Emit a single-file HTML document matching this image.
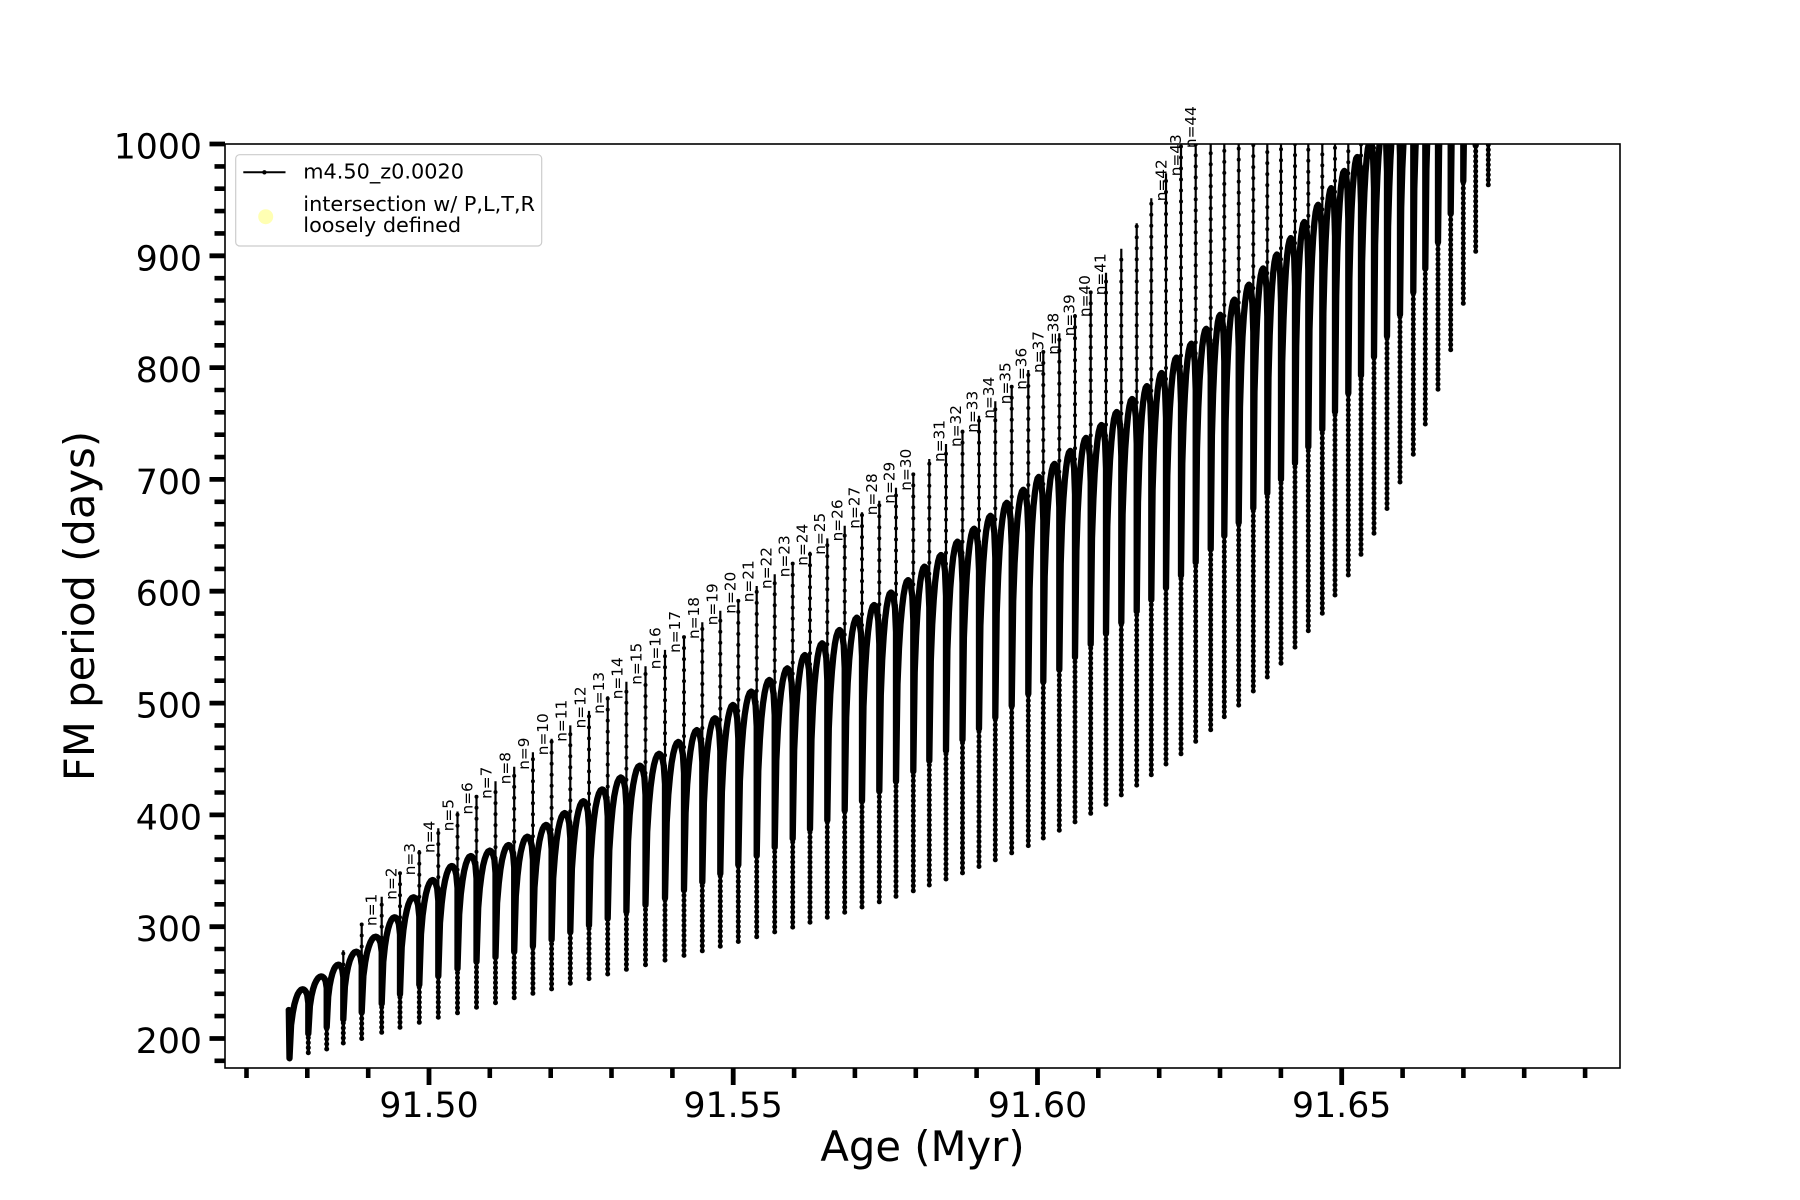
<!DOCTYPE html>
<html><head><meta charset="utf-8">
<style>
html,body{margin:0;padding:0;background:#fff;}
svg{display:block;}
text{font-family:"DejaVu Sans","Liberation Sans",sans-serif;fill:#000;}
</style></head>
<body>
<svg id="s" width="1800" height="1200" viewBox="0 0 1800 1200" xmlns="http://www.w3.org/2000/svg">
<rect width="1800" height="1200" fill="#fff"/>
<defs><clipPath id="ax"><rect x="225" y="144" width="1395" height="924"/></clipPath></defs>
<g id="data" clip-path="url(#ax)"></g>
<g id="ticks"></g>
<rect x="225" y="144" width="1395" height="924" fill="none" stroke="#000" stroke-width="1.6"/>

<!-- y tick labels -->
<g font-size="34.7" text-anchor="end">
<text x="202" y="158.5">1000</text>
<text x="202" y="270.3">900</text>
<text x="202" y="382.1">800</text>
<text x="202" y="493.9">700</text>
<text x="202" y="605.7">600</text>
<text x="202" y="717.6">500</text>
<text x="202" y="829.4">400</text>
<text x="202" y="941.2">300</text>
<text x="202" y="1053">200</text>
</g>
<!-- x tick labels -->
<g font-size="34.7" text-anchor="middle">
<text x="429" y="1117">91.50</text>
<text x="733.2" y="1117">91.55</text>
<text x="1037.5" y="1117">91.60</text>
<text x="1341.7" y="1117">91.65</text>
</g>
<text x="922.5" y="1161" font-size="41.7" text-anchor="middle">Age (Myr)</text>
<text transform="translate(94,606) rotate(-90)" font-size="41.7" text-anchor="middle">FM period (days)</text>

<!-- n labels -->
<g font-size="15.3">
<text transform="translate(376.7,926) rotate(-90)">n=1</text>
<text transform="translate(396.7,899.7) rotate(-90)">n=2</text>
<text transform="translate(415,875.3) rotate(-90)">n=3</text>
<text transform="translate(434.3,853) rotate(-90)">n=4</text>
<text transform="translate(453.3,831.3) rotate(-90)">n=5</text>
<text transform="translate(472.5,814.5) rotate(-90)">n=6</text>
<text transform="translate(491.5,798.9) rotate(-90)">n=7</text>
<text transform="translate(510.5,784.3) rotate(-90)">n=8</text>
<text transform="translate(529.2,769.8) rotate(-90)">n=9</text>
<text transform="translate(547.9,755.2) rotate(-90)">n=10</text>
<text transform="translate(566.6,741.8) rotate(-90)">n=11</text>
<text transform="translate(585.3,728.4) rotate(-90)">n=12</text>
<text transform="translate(604,713.9) rotate(-90)">n=13</text>
<text transform="translate(622.7,699.3) rotate(-90)">n=14</text>
<text transform="translate(641.4,684.8) rotate(-90)">n=15</text>
<text transform="translate(660.5,669.2) rotate(-90)">n=16</text>
<text transform="translate(680,652.9) rotate(-90)">n=17</text>
<text transform="translate(699,639) rotate(-90)">n=18</text>
<text transform="translate(717.3,625.3) rotate(-90)">n=19</text>
<text transform="translate(735.3,613.7) rotate(-90)">n=20</text>
<text transform="translate(753.3,602.3) rotate(-90)">n=21</text>
<text transform="translate(771.7,589) rotate(-90)">n=22</text>
<text transform="translate(789.7,577.2) rotate(-90)">n=23</text>
<text transform="translate(807.7,565.7) rotate(-90)">n=24</text>
<text transform="translate(825,554.7) rotate(-90)">n=25</text>
<text transform="translate(842.3,541.4) rotate(-90)">n=26</text>
<text transform="translate(859.7,528.7) rotate(-90)">n=27</text>
<text transform="translate(877,515.3) rotate(-90)">n=28</text>
<text transform="translate(894.3,503.7) rotate(-90)">n=29</text>
<text transform="translate(911,490.7) rotate(-90)">n=30</text>
<text transform="translate(944.3,462) rotate(-90)">n=31</text>
<text transform="translate(961,447) rotate(-90)">n=32</text>
<text transform="translate(977.5,432.7) rotate(-90)">n=33</text>
<text transform="translate(994,418.7) rotate(-90)">n=34</text>
<text transform="translate(1010.3,404.2) rotate(-90)">n=35</text>
<text transform="translate(1026.7,389.7) rotate(-90)">n=36</text>
<text transform="translate(1043.3,373) rotate(-90)">n=37</text>
<text transform="translate(1058.3,354.7) rotate(-90)">n=38</text>
<text transform="translate(1074.3,336.3) rotate(-90)">n=39</text>
<text transform="translate(1090,317.1) rotate(-90)">n=40</text>
<text transform="translate(1105.7,295.3) rotate(-90)">n=41</text>
<text transform="translate(1166.3,201.3) rotate(-90)">n=42</text>
<text transform="translate(1181,176.3) rotate(-90)">n=43</text>
<text transform="translate(1196,148.1) rotate(-90)">n=44</text>
</g>

<!-- legend -->
<rect x="235.7" y="154.7" width="306" height="91.3" rx="4" ry="4" fill="#fff" fill-opacity="0.8" stroke="#cccccc" stroke-width="1.2"/>
<line x1="243.3" y1="172.3" x2="285.5" y2="172.3" stroke="#000" stroke-width="2"/>
<circle cx="264.4" cy="172.3" r="2.2" fill="#000"/>
<text x="303.3" y="178.6" font-size="20.8">m4.50_z0.0020</text>
<circle cx="265.7" cy="216.7" r="7.5" fill="#ffffb3"/>
<text x="303.3" y="211" font-size="20.8">intersection w/ P,L,T,R</text>
<text x="303.3" y="232" font-size="20.8">loosely defined</text>
</svg>
<script>
(function(){
var NS='http://www.w3.org/2000/svg';
function el(tag,attrs,parent){var e=document.createElementNS(NS,tag);for(var a in attrs)e.setAttribute(a,attrs[a]);parent.appendChild(e);return e;}
function yp(P){return 144+(1000-P)*1.1181;}
function f1(v){return v.toFixed(1);}

var X=[289.5,308.3,326.7,343.3,361.7,381.7,400,419.3,438.3,457.5,476.5,495.5,514.2,532.9,551.6,570.3,589,607.7,626.4,645.5,
665,684,702.3,720.3,738.3,756.7,774.7,792.7,810,827.3,844.7,862,879.3,896,913.3,929.3,946,962.5,979,995.3,
1011.7,1028.3,1043.3,1059.3,1075,1090.7,1106,1121.3,1136.7,1151.3,1166,1181,1195.7,1210.7,1224.3,1238.7,1253.3,1267.3,1281,1295,
1308.3,1322.3,1335,1348.3,1361,1374,1387,1400,1413.3,1425.3,1438,1450.7,1463.3,1475.7,1488.3];
var N=X.length;
var M=[182.3,187.3,190.6,196,200,205.5,210,214.5,219,223,228,232,236.5,240.4,244.3,249.4];
var k;
for(k=16;k<=24;k++)M.push(M[k-1]+4.144);
for(k=25;k<=48;k++)M.push(M[k-1]+4.3+0.0085*(k-25)*(k-25));
M=M.concat([435.9,445.5,454.6,465.8,476.2,487.8,498.2,510.8,523.3,535.6,550,564.7,580.4,596.6,614.5,633,651.9,674,697.7,722.6,749.6,780.7,816,857.5,904,963.5]);

var A=[244,255.5,266,277.6,291,308.4,326.3,341.7,354.3,363.2,368,373,380.5,391];
for(k=14;k<=22;k++)A.push(391+10.6*(k-13));
A=A.concat([498.3,510.2,520.6,531,542.9,553.4,565.3,576.3,587.7,598.9,610,622,632.4,644.3]);
for(k=37;k<=48;k++)A.push(644.3+11.6*(k-36));
A=A.concat([795.2,809,821.4,834.7,847.2,860.8,874.2,888.7,901.2,915.8,930.2,945.6,960.5,975.9,988.4]);
for(k=64;k<=73;k++)A.push(988.4+14*(k-63));

var S=[null,null,null,279,303.3,326.8,348.6,368.6,388,403,417,430,443,456,468,480,493,506,519,533,547.5,560,572.2,582.6,592.8,604.7,615.2,625.5,635.4,647.3,658.6,670.6,681,692.6,704.6,718.3,731.7,744.5,757,770,782.9,797.9,814.2,830.7,847.9,867.4,884.9,906.4,929.1,951.4,973.8,999];
while(S.length<N)S.push(1100);

var T=[M[0]];
for(k=1;k<N;k++){var f=k<20?0.3:(k<45?0.3+0.15*(k-20)/25:0.45);T.push(M[k]+f*(A[k-1]-M[k]));}

var g=document.getElementById('data');
var lower='',upper='';
for(k=0;k<N;k++){
  var tt=Math.min(T[k],1010);
  lower+='M'+f1(X[k])+' '+f1(yp(M[k]))+' L'+f1(X[k])+' '+f1(yp(tt))+' ';
  if(S[k]!==null&&S[k]>T[k]){
    var top=Math.min(S[k],1010);
    upper+='M'+f1(X[k])+' '+f1(yp(T[k]))+' L'+f1(X[k])+' '+f1(yp(top))+' ';
  }
}
el('path',{d:upper,fill:'none',stroke:'#000','stroke-width':'2.2'},g);
el('path',{d:upper,fill:'none',stroke:'#000','stroke-width':'4','stroke-dasharray':'0 11','stroke-linecap':'round'},g);
el('path',{d:lower,fill:'none',stroke:'#000','stroke-width':'3.4'},g);
el('path',{d:lower,fill:'none',stroke:'#000','stroke-width':'5','stroke-dasharray':'0 5','stroke-linecap':'round'},g);

var d='M288.8 '+f1(yp(225.5))+' L289.5 '+f1(yp(M[0]));
for(k=0;k<N-1;k++){
  var x0=X[k],x1=X[k+1],dx=x1-x0,a=A[k],t0=T[k],tp=0.7,h=0.2*(a-t0),i;
  for(i=0;i<=8;i++){var s=i/8;var gg=Math.sqrt(1-(1-s)*(1-s));d+=' L'+f1(x0+tp*dx*s)+' '+f1(yp(t0+(a-t0)*gg));}
  for(i=1;i<=5;i++){var u=i/5;d+=' L'+f1(x0+dx*(tp+(1-tp)*u))+' '+f1(yp(a-h*(1-Math.sqrt(1-u*u))));}
  d+=' L'+f1(x1)+' '+f1(yp(T[k+1]));
}
el('path',{d:d,fill:'none',stroke:'#000','stroke-width':'6.3','stroke-linejoin':'round','stroke-linecap':'round'},g);

var tg=document.getElementById('ticks');
var tk='',tm='';
for(var P=180;P<=1000;P+=20){
  var y=yp(P);
  if(P%100===0){tk+='M209.5 '+f1(y)+' L225 '+f1(y)+' ';}
  else{tm+='M214.5 '+f1(y)+' L225 '+f1(y)+' ';}
}
for(var j=47;j<=69;j++){
  var x=429+(j-50)*60.847;
  if(j%5===0){tk+='M'+f1(x)+' 1068 L'+f1(x)+' 1085 ';}
  else{tm+='M'+f1(x)+' 1068 L'+f1(x)+' 1078 ';}
}
el('path',{d:tk,fill:'none',stroke:'#000','stroke-width':'4.8'},tg);
el('path',{d:tm,fill:'none',stroke:'#000','stroke-width':'4.6'},tg);
})();
</script>
</body></html>
